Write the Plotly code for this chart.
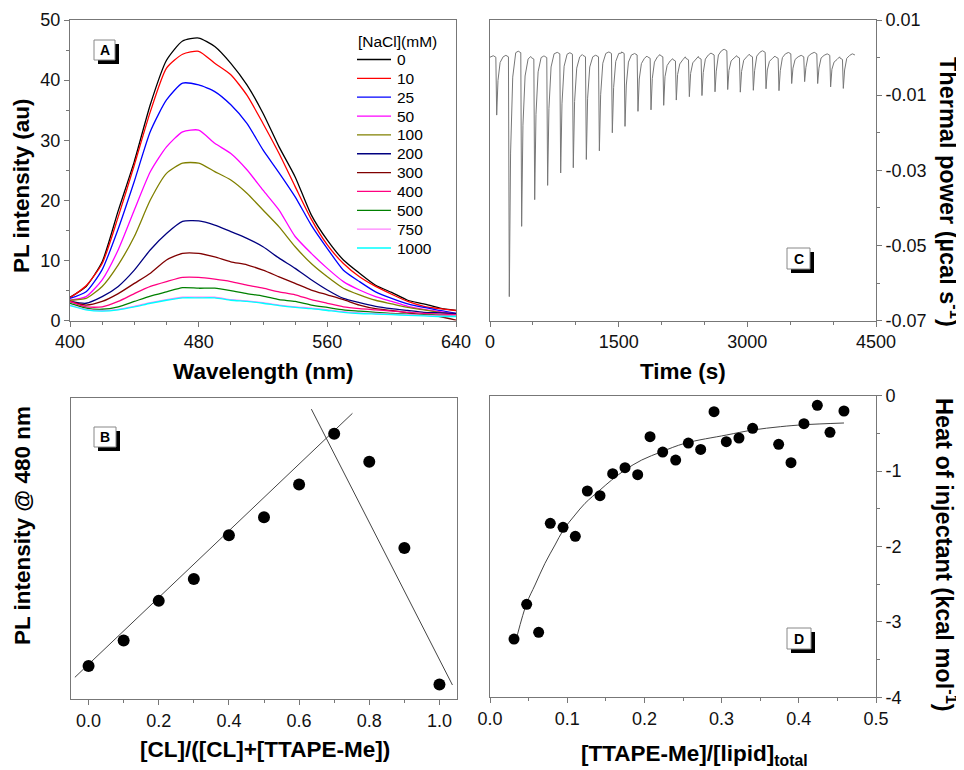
import plotly.graph_objects as go

# page is drawn with an 8px body margin, so the figure is placed at (8, 8)
OX, OY = 8, 8
W, H = 964 - OX, 770 - OY

# ---------------- Panel A data ----------------
wavelength = [400, 410, 420, 430, 440, 450, 460, 470, 480, 490, 500, 510, 520,
              530, 540, 550, 560, 570, 580, 590, 600, 610, 620, 630, 640]
nacl_labels = ["0", "10", "25", "50", "100", "200", "300", "400", "500", "750", "1000"]
spec_0 = [3.9, 5.7, 9.8, 18.3, 26.5, 36.0, 43.3, 46.5, 47.0, 45.6, 42.8, 39.2, 34.5,
          28.9, 23.9, 17.6, 13.4, 10.1, 7.9, 5.9, 4.7, 3.4, 2.8, 2.1, 1.7]
spec_10 = [3.8, 5.8, 9.5, 17.3, 25.9, 34.8, 42.0, 44.3, 44.8, 42.8, 40.9, 37.5, 32.8,
           27.8, 22.3, 16.9, 12.6, 9.5, 7.3, 5.7, 4.4, 3.2, 2.4, 2.0, 1.7]
spec_25 = [3.7, 4.8, 8.5, 15.3, 23.2, 31.5, 36.7, 39.5, 39.2, 38.1, 35.9, 32.8, 28.4,
           24.6, 20.6, 15.9, 12.0, 8.4, 6.5, 4.8, 3.7, 2.8, 2.2, 1.7, 1.2]
spec_50 = [3.4, 4.0, 6.8, 11.8, 18.4, 24.8, 28.9, 31.4, 31.7, 29.5, 27.8, 25.1, 21.7,
           18.4, 14.0, 11.2, 8.7, 6.5, 5.1, 4.0, 3.2, 2.4, 1.9, 1.5, 1.1]
spec_100 = [3.4, 3.7, 5.7, 9.3, 14.0, 20.1, 24.5, 26.2, 26.2, 24.8, 23.4, 21.2, 18.4,
            15.6, 12.3, 9.5, 7.3, 5.4, 4.3, 3.4, 2.8, 2.2, 1.8, 1.4, 1.0]
spec_200 = [3.2, 2.9, 4.0, 5.7, 8.4, 11.8, 14.5, 16.5, 16.6, 15.9, 14.8, 13.7, 12.3,
            10.4, 8.7, 6.8, 5.1, 3.7, 3.0, 2.4, 2.0, 1.7, 1.4, 1.3, 1.2]
spec_300 = [3.2, 2.6, 3.2, 4.5, 6.2, 7.9, 10.1, 11.2, 11.2, 10.6, 9.8, 9.3, 8.4,
            7.3, 6.2, 5.1, 4.3, 3.5, 2.6, 2.0, 1.7, 1.3, 1.0, 0.7, 0.1]
spec_400 = [3.2, 2.3, 2.3, 3.2, 4.5, 5.7, 6.5, 7.2, 7.2, 6.9, 6.5, 5.9, 5.4,
            4.8, 4.3, 3.5, 2.9, 2.3, 2.0, 1.8, 1.6, 1.4, 1.2, 1.1, 1.0]
spec_500 = [2.9, 2.1, 1.9, 2.3, 3.2, 4.1, 4.8, 5.5, 5.4, 5.4, 5.0, 4.5, 4.1,
            3.5, 3.2, 2.6, 2.2, 1.8, 1.6, 1.4, 1.2, 1.1, 1.0, 0.9, 0.8]
spec_750 = [2.6, 1.9, 1.7, 1.9, 2.4, 3.0, 3.5, 3.9, 3.9, 3.9, 3.5, 3.3, 3.0,
            2.6, 2.3, 2.1, 1.8, 1.5, 1.3, 1.2, 1.1, 1.0, 0.9, 0.8, 0.8]
spec_1000 = [2.5, 1.8, 1.6, 1.8, 2.3, 2.9, 3.4, 3.8, 3.8, 3.8, 3.4, 3.2, 2.9,
             2.5, 2.2, 2.0, 1.7, 1.4, 1.2, 1.1, 1.0, 0.9, 0.8, 0.7, 0.7]
spectra = [spec_0, spec_10, spec_25, spec_50, spec_100, spec_200, spec_300,
           spec_400, spec_500, spec_750, spec_1000]
spec_colors = ["#000000", "#ff0000", "#0000ff", "#ff00ff", "#808000", "#000080",
               "#800000", "#ff0080", "#008000", "#ff80ff", "#00ffff"]

# ---------------- Panel B data ----------------
cl_fraction = [0.0, 0.1, 0.2, 0.3, 0.4, 0.5, 0.6, 0.7, 0.8, 0.9, 1.0]
pl_480 = [11.0, 19.4, 32.6, 39.9, 54.4, 60.4, 71.3, 88.1, 78.8, 50.2, 4.8]
fitB1_x = [-0.039, 0.752]
fitB1_y = [7.2, 94.9]
fitB2_x = [0.635, 1.037]
fitB2_y = [96.3, 4.65]

# ---------------- Panel C data ----------------
inj_time = [78, 225, 369, 521, 672, 824, 971, 1123, 1275, 1426, 1574, 1725, 1877, 2025,
            2172, 2324, 2471, 2623, 2771, 2918, 3070, 3218, 3369, 3517, 3668, 3820,
            3971, 4119]
inj_min = [-0.0153, -0.0636, -0.0449, -0.0378, -0.0340, -0.0307, -0.0293, -0.0271,
           -0.0248, -0.0200, -0.0183, -0.0143, -0.0139, -0.0127, -0.0113, -0.0104,
           -0.0101, -0.0091, -0.0085, -0.0092, -0.0087, -0.0083, -0.0088, -0.0069,
           -0.0064, -0.0069, -0.0078, -0.0082]
inj_r15 = [-0.0061, -0.0254, -0.0180, -0.0151, -0.0136, -0.0123, -0.0117, -0.0108,
           -0.0099, -0.0080, -0.0073, -0.0057, -0.0056, -0.0051, -0.0045, -0.0042,
           -0.0040, -0.0036, -0.0034, -0.0037, -0.0035, -0.0033, -0.0035, -0.0028,
           -0.0026, -0.0028, -0.0031, -0.0033]
inj_r40 = [-0.0013, -0.0052, -0.0049, -0.0038, -0.0025, -0.0023, -0.0028, -0.0025,
           -0.0015, -0.0010, -0.0012, -0.0016, -0.0012, -0.0021, -0.0017, -0.0014,
           -0.0004, 0.0007, -0.0009, -0.0007, 0.0004, -0.0010, 0.0000, -0.0005,
           0.0003, -0.0001, -0.0012, -0.0002]
plateau = [0.0002, 0.0013, -0.0004, 0.0000, 0.0010, 0.0009, 0.0002, 0.0002, 0.0011,
           0.0011, 0.0007, -0.0002, 0.0002, -0.0009, -0.0006, -0.0004, 0.0007, 0.0018,
           -0.0001, 0.0002, 0.0014, -0.0002, 0.0010, 0.0002, 0.0010, 0.0006, -0.0005,
           0.0006]
plateau_bump = [0.0006, 0.0016, 0.0003, 0.0004, 0.0015, 0.0013, 0.0008, 0.0006, 0.0014,
                0.0012, 0.0010, 0.0004, 0.0008, -0.0003, 0.0002, 0.0003, 0.0012, 0.0022,
                0.0005, 0.0009, 0.0018, 0.0004, 0.0013, 0.0007, 0.0014, 0.0011, 0.0002,
                0.0010]
itc_start = [0, 0.0001]
itc_end = [4254, 0.0007]

# ---------------- Panel D data ----------------
ratio = [0.0311, 0.0475, 0.0630, 0.0781, 0.0946, 0.1105, 0.1261, 0.1425, 0.1589,
         0.1749, 0.1913, 0.2073, 0.2237, 0.2405, 0.2569, 0.2729, 0.2902, 0.3061,
         0.3225, 0.3402, 0.3739, 0.3899, 0.4067, 0.4240, 0.4404, 0.4585]
heat = [-3.227, -2.767, -3.138, -1.693, -1.746, -1.865, -1.264, -1.326, -1.034,
        -0.955, -1.047, -0.544, -0.747, -0.853, -0.628, -0.712, -0.212, -0.610,
        -0.561, -0.433, -0.645, -0.888, -0.371, -0.128, -0.486, -0.203]
fitD_x = [0.0354, 0.0475, 0.0583, 0.0712, 0.0842, 0.0950, 0.1101, 0.1231, 0.1425,
          0.1576, 0.1749, 0.1965, 0.2224, 0.2526, 0.306, 0.340, 0.376, 0.407, 0.4585]
fitD_y = [-3.174, -2.753, -2.511, -2.223, -1.980, -1.781, -1.582, -1.427, -1.251,
          -1.118, -0.985, -0.853, -0.743, -0.631, -0.522, -0.456, -0.411, -0.385,
          -0.362]

# ---------------- helpers (screen pixel -> paper) ----------------
def px(x):
    return (x - OX) / W

def py(y):
    return 1 - (y - OY) / H

FONT = "Liberation Sans, Arial, sans-serif"
AX = "#777777"
TICKF = dict(family=FONT, size=18, color="#111111")

fig = go.Figure()

# Panel A traces
for name, ys, col in zip(nacl_labels, spectra, spec_colors):
    fig.add_trace(go.Scatter(x=wavelength, y=ys, mode="lines", name=name,
                             line=dict(color=col, width=1.3, shape="spline", smoothing=0.6),
                             xaxis="x", yaxis="y", showlegend=False))

# Panel B
fig.add_trace(go.Scatter(x=fitB1_x, y=fitB1_y, mode="lines", line=dict(color="#444", width=1),
                         xaxis="x3", yaxis="y3", showlegend=False))
fig.add_trace(go.Scatter(x=fitB2_x, y=fitB2_y, mode="lines", line=dict(color="#444", width=1),
                         xaxis="x3", yaxis="y3", showlegend=False))
fig.add_trace(go.Scatter(x=cl_fraction, y=pl_480, mode="markers",
                         marker=dict(color="black", size=12),
                         xaxis="x3", yaxis="y3", showlegend=False))

# Panel C: ITC trace built from read injection features
t_vals = [itc_start[0]]
y_vals = [itc_start[1]]
prev_p = itc_start[1]
for i, t in enumerate(inj_time):
    t_vals += [t - 40, t - 10, t, t + 15, t + 40, t + 75, t + 105]
    y_vals += [prev_p + 0.0004, prev_p, inj_min[i], inj_r15[i], inj_r40[i],
               plateau[i], plateau_bump[i]]
    prev_p = plateau[i]
t_vals.append(itc_end[0])
y_vals.append(itc_end[1])
fig.add_trace(go.Scatter(x=t_vals, y=y_vals, mode="lines",
                         line=dict(color="#777777", width=1),
                         xaxis="x2", yaxis="y2", showlegend=False))

# Panel D
fig.add_trace(go.Scatter(x=fitD_x, y=fitD_y, mode="lines",
                         line=dict(color="#444", width=1, shape="spline"),
                         xaxis="x4", yaxis="y4", showlegend=False))
fig.add_trace(go.Scatter(x=ratio, y=heat, mode="markers",
                         marker=dict(color="black", size=11),
                         xaxis="x4", yaxis="y4", showlegend=False))

def axis(domain, rng, **kw):
    d = dict(domain=domain, range=rng, showline=True, linecolor=AX, linewidth=1,
             mirror=True, ticks="outside", ticklen=5, tickcolor=AX, tickwidth=1,
             tickfont=TICKF, showgrid=False, zeroline=False, automargin=False)
    d.update(kw)
    return d

def minor(t0, dt):
    return dict(tickmode="linear", tick0=t0, dtick=dt, ticks="outside",
                ticklen=3, tickcolor=AX)

A_x = [px(70), px(456)]
A_y = [py(320.7), py(20)]
C_x = [px(490), px(876)]
B_x = [px(71), px(457)]
B_y = [py(699), py(398)]
D_y = [py(697.3), py(395.7)]

fig.update_layout(
    width=W, height=H, margin=dict(l=0, r=0, t=0, b=0, autoexpand=False),
    paper_bgcolor="white", plot_bgcolor="white",
    font=dict(family=FONT, color="#000"),
    xaxis=axis(A_x, [400, 640], anchor="y", tickvals=[400, 480, 560, 640],
               minor=minor(400, 20)),
    yaxis=axis(A_y, [0, 50], anchor="x", tickvals=[0, 10, 20, 30, 40, 50],
               minor=minor(0, 5)),
    xaxis2=axis(C_x, [0, 4500], anchor="y2", tickvals=[0, 1500, 3000, 4500],
                minor=minor(0, 500)),
    yaxis2=axis(A_y, [-0.07, 0.01], anchor="x2", side="right",
                tickvals=[0.01, -0.01, -0.03, -0.05, -0.07],
                ticktext=["0.01", "-0.01", "-0.03", "-0.05", "-0.07"],
                minor=minor(0.0, 0.02)),
    xaxis3=axis(B_x, [-0.05, 1.05], anchor="y3",
                tickvals=[0.0, 0.2, 0.4, 0.6, 0.8, 1.0],
                ticktext=["0.0", "0.2", "0.4", "0.6", "0.8", "1.0"],
                minor=minor(0, 0.1)),
    yaxis3=axis(B_y, [0, 100], anchor="x3", ticks="", showticklabels=False),
    xaxis4=axis(C_x, [0, 0.5], anchor="y4",
                tickvals=[0.0, 0.1, 0.2, 0.3, 0.4, 0.5],
                ticktext=["0.0", "0.1", "0.2", "0.3", "0.4", "0.5"],
                minor=minor(0, 0.05)),
    yaxis4=axis(D_y, [-4, 0], anchor="x4", side="right",
                tickvals=[0, -1, -2, -3, -4],
                ticktext=["0", "-1", "-2", "-3", "-4"],
                minor=minor(0, 0.5)),
)

ann = []

def title(text, x, y, angle=0, size=22.5):
    ann.append(dict(text=text, x=px(x), y=py(y), xref="paper", yref="paper",
                    showarrow=False, textangle=angle, xanchor="center", yanchor="middle",
                    font=dict(family=FONT, size=size, color="#000")))

title("<b>PL intensity (au)</b>", 22, 186, -90, 22.5)
title("<b>Wavelength (nm)</b>", 263, 371)
title("<b>Time (s)</b>", 683, 371)
title("<b>Thermal power (µcal s<sup>-1</sup>)</b>", 950, 192, 90, 23.5)
title("<b>PL intensity @ 480 nm</b>", 22, 526, -90, 22.5)
title("<b>[CL]/([CL]+[TTAPE-Me])</b>", 265, 749)
title("<b>[TTAPE-Me]/[lipid]<sub>total</sub></b>", 694, 755)
title("<b>Heat of injectant (kcal mol<sup>-1</sup>)</b>", 946, 555, 90, 23.5)

# custom legend for panel A
shapes = []
ann.append(dict(text="[NaCl](mM)", x=px(356), y=py(42), xref="paper", yref="paper",
                showarrow=False, xanchor="left", yanchor="middle",
                font=dict(family=FONT, size=15.5, color="#000")))
for i, (name, col) in enumerate(zip(nacl_labels, spec_colors)):
    yy = 59.5 + i * 18.85
    shapes.append(dict(type="line", xref="paper", yref="paper",
                       x0=px(357), x1=px(391), y0=py(yy), y1=py(yy),
                       line=dict(color=col, width=1.3)))
    ann.append(dict(text=name, x=px(395), y=py(yy), xref="paper", yref="paper",
                    showarrow=False, xanchor="left", yanchor="middle",
                    font=dict(family=FONT, size=15.5, color="#000")))

# panel letter boxes
def label_box(x0, y0, w, h, letter):
    shapes.append(dict(type="rect", xref="paper", yref="paper",
                       x0=px(x0 + 4), x1=px(x0 + w + 4), y0=py(y0 + 4), y1=py(y0 + h + 4),
                       fillcolor="black", line=dict(width=0)))
    shapes.append(dict(type="rect", xref="paper", yref="paper",
                       x0=px(x0), x1=px(x0 + w), y0=py(y0), y1=py(y0 + h),
                       fillcolor="white", line=dict(color="#888", width=1)))
    ann.append(dict(text="<b>%s</b>" % letter, x=px(x0 + w / 2), y=py(y0 + h / 2),
                    xref="paper", yref="paper", showarrow=False,
                    xanchor="center", yanchor="middle",
                    font=dict(family=FONT, size=14, color="#000")))

label_box(94, 40, 21, 20, "A")
label_box(94, 427, 22, 20, "B")
label_box(787, 248, 23, 21, "C")
label_box(787, 628, 24, 21, "D")

fig.update_layout(annotations=ann, shapes=shapes)
fig.write_html("out.html")
